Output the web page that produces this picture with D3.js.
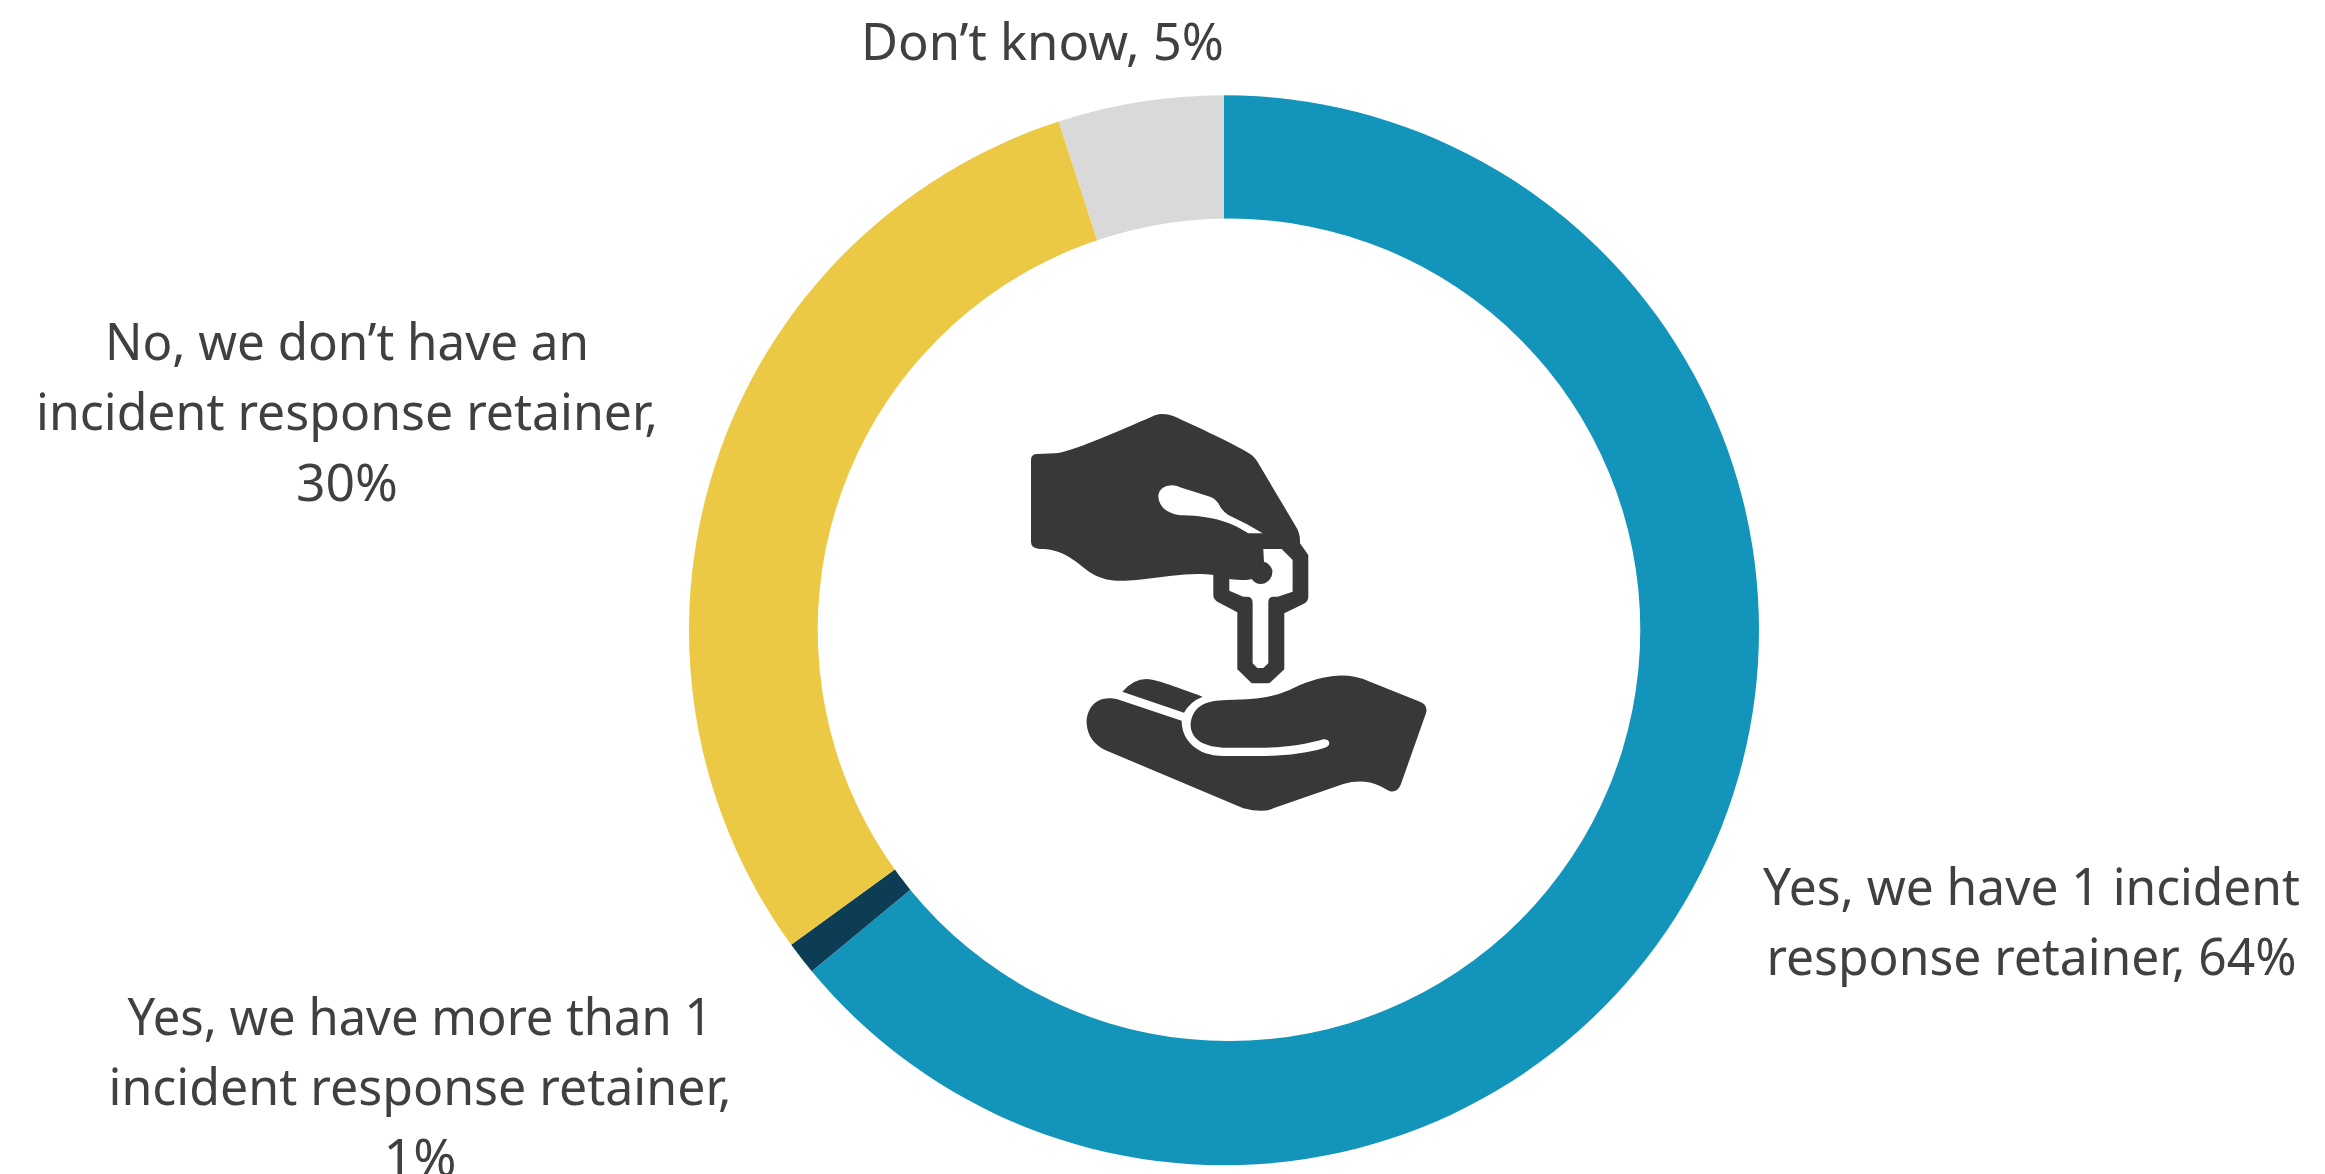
<!DOCTYPE html>
<html>
<head>
<meta charset="utf-8">
<script src="https://cdn.jsdelivr.net/npm/d3@7"></script>
<style>
  html, body { margin: 0; padding: 0; background: #fff; overflow: hidden; }
  svg { display: block; }
  text { font-family: "Noto Sans", "Open Sans", sans-serif; fill: #404040; }
</style>
</head>
<body>
<svg id="chart" width="2325" height="1174"></svg>
<script>
// Survey answers, clockwise from twelve o'clock
const categories = [
  "Yes, we have 1 incident response retainer",
  "Yes, we have more than 1 incident response retainer",
  "No, we don't have an incident response retainer",
  "Don't know"
];
const shares = [64, 1, 30, 5];
const colors = ["#1394BA", "#0D3C55", "#EBC944", "#D9D9D9"];

// Label lines as they wrap around the ring
const labelLines = [
  ["Yes, we have 1 incident", "response retainer, 64%"],
  ["Yes, we have more than 1", "incident response retainer,", "1%"],
  ["No, we don\u2019t have an", "incident response retainer,", "30%"],
  ["Don\u2019t know, 5%"]
];
const labelX = [2031.5, 420, 347, 1042.5];
const labelFirstBaseline = [905, 1035, 360, 60];
const labelWidths = [[537, 530], [585, 623, 73], [484, 622, 102], [363]];

const width = 2325, height = 1174;
const cx = 1224, cy = 630.3, outerR = 535;
// The hole sits slightly right of the ring's centre
const holeX = 1229, holeY = 629.8, holeR = 411.3;
const fontSize = 51, lineStep = 70.3;

const svg = d3.select("#chart");

const pie = d3.pie().sort(null).value(d => d)(shares);
const arc = d3.arc().innerRadius(0).outerRadius(outerR);
const color = d3.scaleOrdinal().domain(categories).range(colors);

svg.append("g")
  .attr("transform", `translate(${cx},${cy})`)
  .selectAll("path")
  .data(pie)
  .join("path")
  .attr("d", arc)
  .attr("fill", (d, i) => color(categories[i]));

svg.append("circle")
  .attr("cx", holeX)
  .attr("cy", holeY)
  .attr("r", holeR)
  .attr("fill", "#fff");

// Labels: every line is fitted to its measured run length
const labels = svg.append("g").selectAll("text")
  .data(labelLines)
  .join("text")
  .attr("text-anchor", "middle")
  .attr("font-size", fontSize);

labels.each(function (lines, i) {
  d3.select(this).selectAll("tspan")
    .data(lines)
    .join("tspan")
    .attr("x", labelX[i])
    .attr("y", (l, j) => labelFirstBaseline[i] + j * lineStep)
    .attr("textLength", (l, j) => labelWidths[i][j])
    .attr("lengthAdjust", "spacingAndGlyphs")
    .text(l => l);
});

// Centre icon: one hand lowering a key into another open hand
const icon = svg.append("g").attr("transform", "translate(980,380) scale(0.3333)");
const ink = "#383838";

const upperHand = "M153 240 Q153 222 172 222 L225 220 C270 218 400 160 525 106 Q550 97 580 108 C640 135 780 200 815 225 Q828 235 840 258 L945 435 Q962 460 960 490 L985 525 L985 650 Q985 665 970 672 L913 700 L913 868 L868 910 H815 L772 868 L772 697 L712 665 Q700 658 700 645 L700 585 C640 575 560 590 470 600 C400 607 360 600 320 570 C270 530 240 507 180 507 Q153 505 153 485 Z";
const fingerGap = "M535 345 Q540 318 575 316 Q590 316 600 322 L690 350 Q705 355 715 370 Q725 392 745 405 Q800 430 848 460 H805 C760 430 700 408 610 406 C570 405 535 385 535 345 Z";
const keyInside = "M850 507 H905 L938 540 V635 L893 650 H880 Q865 650 865 668 V850 L850 864 H832 L818 850 V668 Q818 650 800 650 H790 L748 632 V597 C780 600 800 602 815 597 Q830 618 855 610 Q880 595 877 570 Q870 550 852 545 Z";
const backFinger = "M427 935 Q460 897 500 897 C530 898 600 925 668 950 Q630 965 612 998 Z";
const lowerHand = "M395 955 C330 950 318 1010 320 1030 C322 1070 345 1095 375 1110 L790 1285 Q850 1300 880 1285 L1090 1212 Q1150 1195 1200 1218 L1228 1233 Q1250 1240 1262 1215 L1338 1000 Q1345 975 1320 965 L1170 905 C1100 875 1040 885 960 915 C900 945 860 958 740 960 C680 962 640 975 632 1030 C630 1070 660 1100 730 1103 H860 C920 1103 990 1090 1030 1078 Q1048 1078 1048 1090 Q1048 1100 1030 1105 C980 1120 920 1127 860 1128 H730 C650 1127 605 1080 605 1022 L410 957 Z";

icon.append("path").attr("d", upperHand + " " + fingerGap + " " + keyInside)
  .attr("fill", ink).attr("fill-rule", "evenodd");
icon.append("path").attr("d", backFinger).attr("fill", ink);
icon.append("path").attr("d", lowerHand).attr("fill", ink);
</script>
</body>
</html>
